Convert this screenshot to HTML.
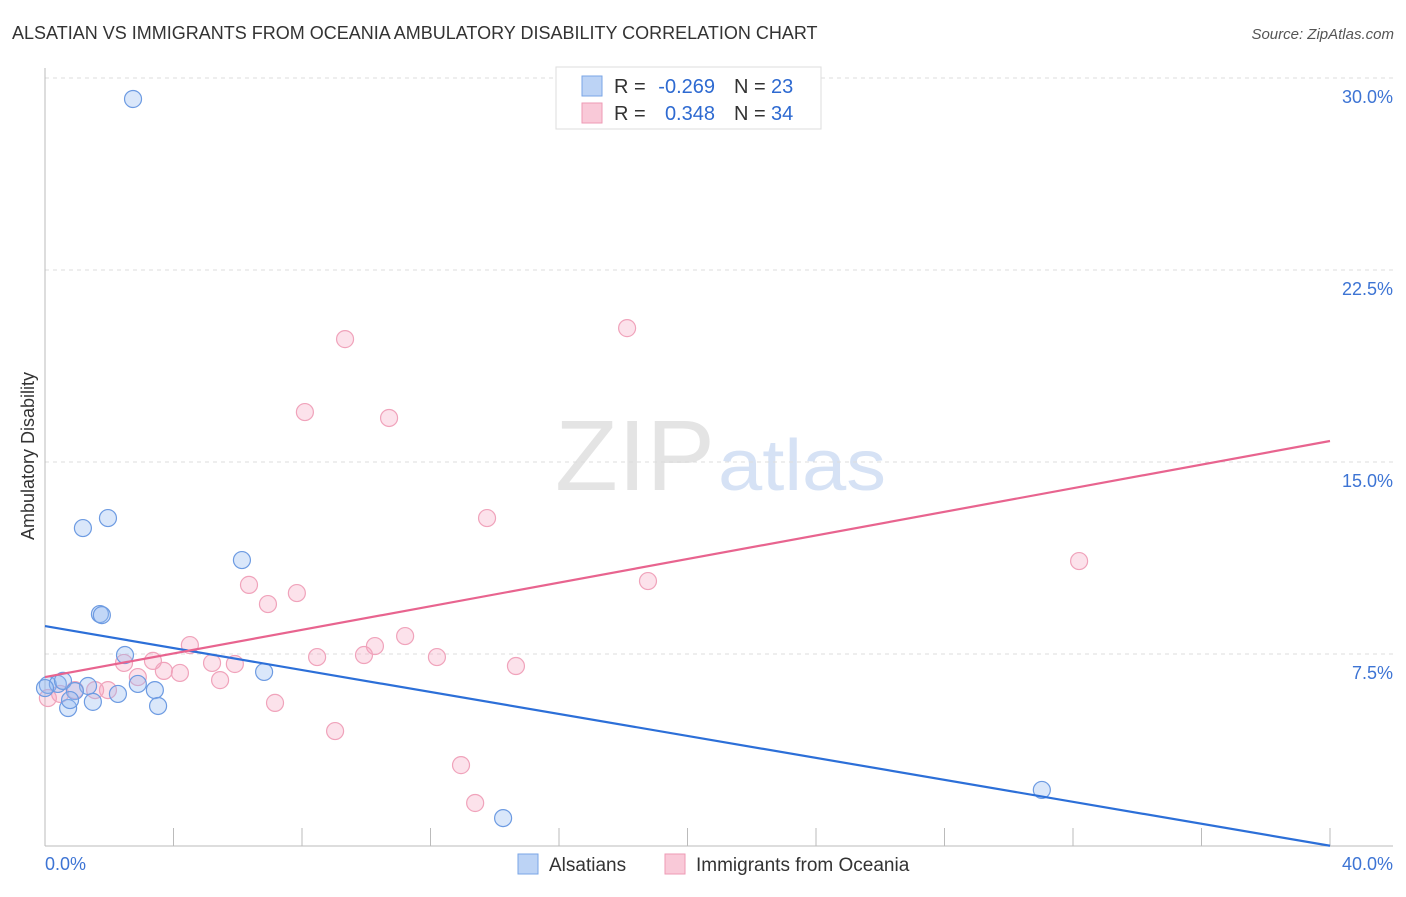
<!DOCTYPE html>
<html><head><meta charset="utf-8"><style>
body{margin:0;background:#fff;font-family:"Liberation Sans",sans-serif}
svg text{font-family:"Liberation Sans",sans-serif}
</style></head><body>
<svg id="c" width="1406" height="892" xmlns="http://www.w3.org/2000/svg">
<text x="12" y="39" font-size="18" fill="#333">ALSATIAN VS IMMIGRANTS FROM OCEANIA AMBULATORY DISABILITY CORRELATION CHART</text>
<text x="1394" y="39" font-size="15" fill="#555" font-style="italic" text-anchor="end">Source: ZipAtlas.com</text>
<text x="555" y="490" font-size="100" fill="#e4e4e4" font-family="Liberation Serif" textLength="160" lengthAdjust="spacingAndGlyphs">ZIP</text>
<text x="718" y="490" font-size="72" fill="#d6e2f5" textLength="168" lengthAdjust="spacingAndGlyphs">atlas</text>
<text transform="translate(34,456) rotate(-90)" font-size="18" fill="#333" text-anchor="middle">Ambulatory Disability</text>
<g id="grid"></g><g id="axes"></g><g id="pts"></g><g id="lines"></g>
<g>
<rect x="556" y="67" width="265" height="62" fill="#fff" stroke="#ddd"/>
<rect x="582" y="76" width="20" height="20" fill="#bcd3f5" stroke="#7aa6e6"/>
<rect x="582" y="103" width="20" height="20" fill="#f9c9d8" stroke="#ee9ab4"/>
<text x="614" y="93" font-size="20" fill="#333">R =</text>
<text x="715" y="93" font-size="20" fill="#2e6ad1" text-anchor="end">-0.269</text>
<text x="734" y="93" font-size="20" fill="#333">N =</text>
<text x="771" y="93" font-size="20" fill="#2e6ad1">23</text>
<text x="614" y="120" font-size="20" fill="#333">R =</text>
<text x="715" y="120" font-size="20" fill="#2e6ad1" text-anchor="end">0.348</text>
<text x="734" y="120" font-size="20" fill="#333">N =</text>
<text x="771" y="120" font-size="20" fill="#2e6ad1">34</text>
</g>
<g>
<rect x="518" y="854" width="20" height="20" fill="#bcd3f5" stroke="#7aa6e6"/>
<text x="549" y="871" font-size="19" fill="#333">Alsatians</text>
<rect x="665" y="854" width="20" height="20" fill="#f9c9d8" stroke="#ee9ab4"/>
<text x="696" y="871" font-size="19" fill="#333">Immigrants from Oceania</text>
</g>
</svg>
<script>
const yTicks=[7.5,15,22.5,30];
const yTickLabels=["7.5%","15.0%","22.5%","30.0%"];
const xTickVals=[0,4,8,12,16,20,24,28,32,36,40];
const blueX=[2.74,1.18,1.96,6.13,1.71,1.77,2.49,6.82,0.09,0.40,0.56,1.34,0.93,0.72,1.49,2.27,2.89,3.42,3.52,31.03,14.26,0.0,0.78];
const blueY=[29.18,12.42,12.81,11.17,9.06,9.02,7.46,6.80,6.29,6.33,6.45,6.25,6.05,5.39,5.63,5.94,6.33,6.09,5.47,2.19,1.09,6.17,5.70];
const pinkX=[9.34,18.12,8.09,10.71,13.76,32.19,18.77,6.35,6.94,7.84,11.21,10.27,9.93,8.47,12.20,14.66,4.51,3.36,2.46,3.70,4.20,5.20,5.91,5.45,2.89,7.16,9.03,12.95,13.39,1.96,0.47,0.09,0.93,1.56];
const pinkY=[19.80,20.23,16.95,16.72,12.81,11.13,10.35,10.20,9.45,9.88,8.20,7.81,7.46,7.38,7.38,7.03,7.85,7.23,7.15,6.84,6.76,7.15,7.11,6.48,6.60,5.59,4.49,3.16,1.68,6.09,5.94,5.78,6.09,6.09];
const blueTrend=[8.59,-0.2145];
const pinkTrend=[6.60,0.2305];
const NS="http://www.w3.org/2000/svg";
const sx=v=>45+v*1285/40, sy=v=>846-v*768/30;
function mk(p,t,a){const e=document.createElementNS(NS,t);for(const k in a)e.setAttribute(k,a[k]);document.getElementById(p).appendChild(e);return e;}
yTicks.forEach((v,i)=>{
 const l=mk('grid','line',{x1:45,x2:1393,y1:sy(v),y2:sy(v),stroke:'#ddd','stroke-dasharray':'4,4'});
 
 
 const t=mk('grid','text',{x:1393,y:sy(v)+25,'font-size':18,fill:'#3d74d4','text-anchor':'end'});
 t.textContent=yTickLabels[i];
 
 
});
let ax=mk('axes','line',{x1:45,x2:45,y1:68,y2:846,stroke:'#bbb'});


ax=mk('axes','line',{x1:45,x2:1393,y1:846,y2:846,stroke:'#bbb'});


xTickVals.forEach(v=>{const t=mk('axes','line',{x1:sx(v),x2:sx(v),y1:828,y2:846,stroke:'#bbb'});
 
 });
let xl=mk('axes','text',{x:45,y:870,'font-size':18,fill:'#3d74d4'});xl.textContent='0.0%';


xl=mk('axes','text',{x:1393,y:870,'font-size':18,fill:'#3d74d4','text-anchor':'end'});xl.textContent='40.0%';


pinkX.forEach((v,i)=>{const c=mk('pts','circle',{cx:sx(v),cy:sy(pinkY[i]),r:8.5,fill:'rgba(245,160,188,0.3)',stroke:'#f0a3bb','stroke-width':1.2});
 
 });
blueX.forEach((v,i)=>{const c=mk('pts','circle',{cx:sx(v),cy:sy(blueY[i]),r:8.5,fill:'rgba(150,185,240,0.35)',stroke:'#6d9be2','stroke-width':1.2});
 
 });
let tl=mk('lines','line',{x1:sx(0),y1:sy(blueTrend[0]),x2:sx(40),y2:sy(blueTrend[0]+40*blueTrend[1]),stroke:'#2c6fd8','stroke-width':2.2});


tl=mk('lines','line',{x1:sx(0),y1:sy(pinkTrend[0]),x2:sx(40),y2:sy(pinkTrend[0]+40*pinkTrend[1]),stroke:'#e8648f','stroke-width':2.2});


</script>
</body></html>
